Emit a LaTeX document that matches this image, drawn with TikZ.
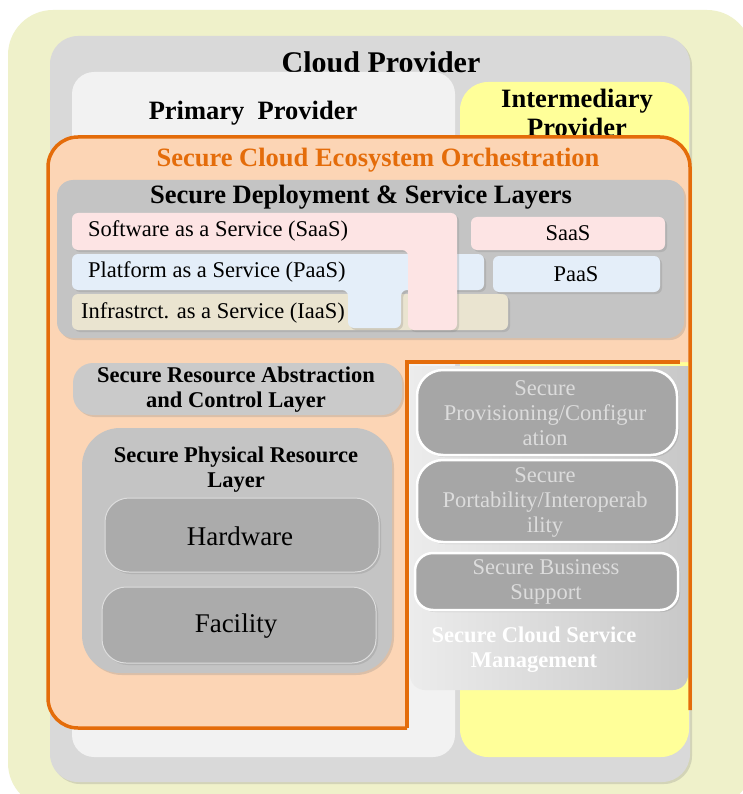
\documentclass[tikz,border=0pt]{standalone}
\usepackage{fontspec}
\setmainfont{Liberation Serif}
\usepackage{xcolor}
\usetikzlibrary{shadows}

\definecolor{paleyellow}{HTML}{EFF1CA}
\definecolor{cloudgray}{HTML}{D9D9D9}
\definecolor{primarygray}{HTML}{F2F2F2}
\definecolor{interyellow}{HTML}{FFFF99}
\definecolor{orchorange}{HTML}{E46C0A}
\definecolor{orchpeach}{HTML}{FCD5B5}
\definecolor{layergray}{HTML}{C4C4C4}
\definecolor{absgray}{HTML}{CACACA}
\definecolor{saaspink}{HTML}{FDE4E4}
\definecolor{paasblue}{HTML}{E4EEF9}
\definecolor{iaastan}{HTML}{EAE4D0}
\definecolor{darkbox}{HTML}{ABABAB}
\definecolor{panelgray}{HTML}{A6A6A6}
\definecolor{mgmtlight}{HTML}{ECECEC}
\definecolor{mgmtgray}{HTML}{C8C8C8}
\definecolor{mgmttext}{HTML}{DCDCDC}

\tikzset{
  bigtitle/.style={font=\bfseries\fontsize{30}{33}\selectfont},
  title/.style={font=\bfseries\fontsize{26.5}{29}\selectfont, align=center},
  subtitle/.style={font=\bfseries\fontsize{22.5}{25}\selectfont, align=center},
  body/.style={font=\fontsize{22.5}{25}\selectfont, align=center},
  hwtext/.style={font=\fontsize{27}{30}\selectfont},
  shadowed/.style={drop shadow={opacity=0.25, shadow xshift=2pt, shadow yshift=-2pt}},
  service/.style={rounded corners=6pt, shadowed},
  panel/.style={fill=panelgray, draw=white, line width=2.5pt, rounded corners=26pt, shadowed},
  hwbox/.style={fill=darkbox, draw=white!60!darkbox, line width=1pt, rounded corners=24pt, shadowed},
  orchline/.style={draw=orchorange, line width=3.5pt}
}

\begin{document}
\begin{tikzpicture}[x=1pt, y=-1pt, every node/.style={inner sep=0pt}]
    \useasboundingbox (0,0) rectangle (743,794);
    \fill[white] (0,0) rectangle (743,794);
    \fill[paleyellow, rounded corners=45pt] (8,10) rectangle (752,808);

    \fill[cloudgray, rounded corners=28pt, shadowed] (50,36) rectangle (690,782);
    \node[bigtitle] (cloud) at (381,62) {Cloud Provider};

    \fill[primarygray, rounded corners=22pt] (72,72) rectangle (455,757);
    \node[title] (primary) at (253,113) {Primary\ \ Provider};

    \fill[interyellow, rounded corners=28pt] (460,82) rectangle (689,757);
    \node[title] (inter) at (577,113) {Intermediary\\Provider};

    % orchestration area
    \fill[orchpeach] (407,728) [rounded corners=30pt] -- (48,728) -- (48,137) -- (690,137)
        [sharp corners] -- (690,362) -- (407,362) -- cycle;
    \node[title, text=orchorange] (orch) at (378,160) {Secure Cloud Ecosystem Orchestration};

    \fill[layergray, rounded corners=16pt, shadowed] (57,180) rectangle (684,338);
    \node[title] (deploy) at (361,197) {Secure Deployment \& Service Layers};

    \fill[iaastan, service] (72,294) rectangle (508,330);
    \fill[paasblue, service] (72,254) -- (484,254) -- (484,290) -- (401,290) -- (401,328)
        -- (348,328) -- (348,290) -- (72,290) -- cycle;
    \fill[paasblue, service] (493,256) rectangle (660,292);
    \fill[saaspink, service] (72,213) -- (457,213) -- (457,330) -- (408,330) -- (408,250)
        -- (72,250) -- cycle;
    \fill[saaspink, service] (471,217) rectangle (665,250);

    \node[body, anchor=west] (saas) at (88,231) {Software as a Service (SaaS)};
    \node[body, anchor=west] (paas) at (88,272) {Platform as a Service (PaaS)};
    \node[body, anchor=west] (iaas) at (81,313) {Infrastrct. as a Service (IaaS)};
    \node[body] (saas2) at (568,233) {SaaS};
    \node[body] (paas2) at (576,274) {PaaS};

    \fill[absgray, rounded corners=20pt, shadowed] (73,363) rectangle (402,415);
    \node[subtitle] (abstr) at (236,390) {Secure Resource Abstraction\\and Control Layer};

    \fill[layergray, rounded corners=38pt, shadowed] (82,428) rectangle (392,673);
    \node[subtitle] (phys) at (236,470) {Secure Physical Resource\\Layer};
    \draw[hwbox] (105,498) rectangle (379,572);
    \node[hwtext] (hw) at (240,536) {Hardware};
    \draw[hwbox] (102,587) rectangle (376,663);
    \node[hwtext] (fac) at (236,626) {Facility};

    % service management
    \shade[left color=mgmtlight, right color=mgmtgray] (410,366) -- (688,366)
        [rounded corners=15pt] -- (688,690) -- (410,690) [sharp corners] -- cycle;
    \draw[panel] (417,370) rectangle (677,455);
    \node[body, text=mgmttext] (prov) at (545,413) {Secure\\Provisioning/Configur\\ation};
    \draw[panel] (417,460) rectangle (677,542);
    \node[body, text=mgmttext] (port) at (545,502) {Secure\\Portability/Interoperab\\ility};
    \draw[panel, rounded corners=18pt] (415,553) rectangle (678,610);
    \node[body, text=mgmttext] (biz) at (546,582) {Secure Business\\Support};
    \node[subtitle, text=white] (mgmt) at (534,650) {Secure Cloud Service\\Management};

    \draw[orchline, rounded corners=30pt] (407,728) -- (48,728) -- (48,137) -- (690,137) -- (690,710);
    \draw[orchline] (407,728) -- (407,362) -- (680,362);
\end{tikzpicture}
\end{document}
